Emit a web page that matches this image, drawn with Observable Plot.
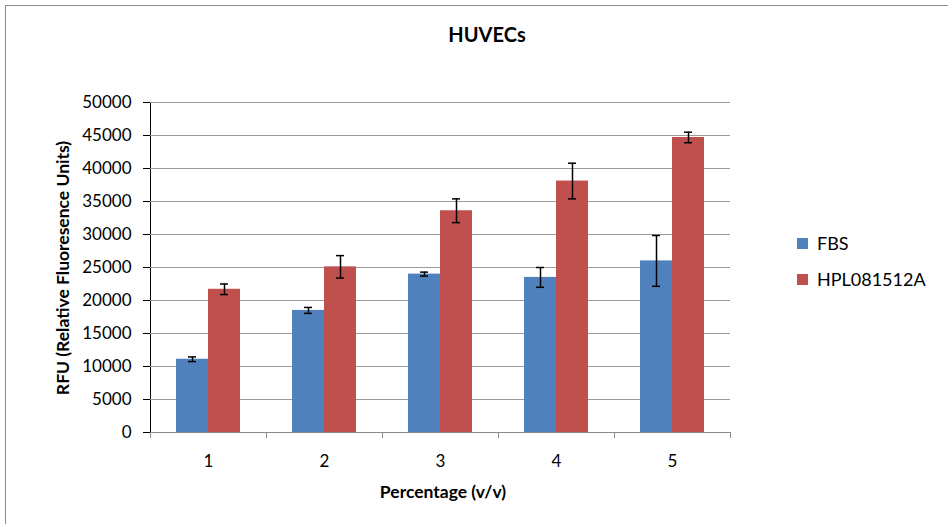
<!DOCTYPE html>
<html>
<head>
<meta charset="utf-8">
<script src="https://cdn.jsdelivr.net/npm/d3@7"></script>
<script src="https://cdn.jsdelivr.net/npm/@observablehq/plot@0.6"></script>
<style>
  body { margin: 0; background: #fff; }
  #wrap { position: relative; width: 948px; height: 524px; overflow: hidden; font-family: Lato, "Open Sans", sans-serif; color: #000; }
  #border { position: absolute; left: 5px; top: 5px; width: 960px; height: 540px; border-left: 1px solid #8c8c8c; border-top: 1px solid #8c8c8c; box-sizing: border-box; }
  #title { position: absolute; left: 0; width: 974px; top: 22px; text-align: center; font-weight: bold; font-size: 20px; line-height: 24px; }
  #xtitle { position: absolute; left: 0; width: 886px; top: 481px; text-align: center; font-weight: bold; font-size: 17.5px; line-height: 22px; }
  #ytitle { position: absolute; left: 63px; top: 268px; width: 400px; margin-left: -200px; margin-top: -11px; text-align: center; transform: rotate(-90deg); font-weight: bold; font-size: 17.5px; line-height: 22px; white-space: nowrap; }
  #legend { position: absolute; left: 797px; top: 231px; font-size: 18px; }
  .item { display: flex; align-items: center; height: 24px; margin-bottom: 12px; }
  .sw { width: 11px; height: 11px; margin-right: 9px; }
  #chart { position: absolute; left: 0; top: 0; }
</style>
</head>
<body>
<div id="wrap">
  <div id="border"></div>
  <div id="chart"></div>
  <div id="title">HUVECs</div>
  <div id="ytitle">RFU (Relative Fluoresence Units)</div>
  <div id="xtitle">Percentage (v/v)</div>
  <div id="legend"></div>
</div>
<script>
const categories = [1, 2, 3, 4, 5];
const series = ["FBS", "HPL081512A"];
const fbsMean = [11100, 18500, 24000, 23500, 26000];
const fbsErr = [350, 450, 300, 1500, 3850];
const hplMean = [21700, 25100, 33600, 38100, 44700];
const hplErr = [800, 1700, 1800, 2700, 800];
const yTicks = [0, 5000, 10000, 15000, 20000, 25000, 30000, 35000, 40000, 45000, 50000];
const colors = ["#4F81BD", "#C0504D"];

const data = categories.flatMap((c, i) => [
  {cat: c, series: series[0], value: fbsMean[i], err: fbsErr[i]},
  {cat: c, series: series[1], value: hplMean[i], err: hplErr[i]}
]);

const chart = Plot.plot({
  width: 948,
  height: 524,
  marginLeft: 150,
  marginRight: 218,
  marginTop: 102,
  marginBottom: 92,
  style: {fontFamily: "Lato, 'Open Sans', sans-serif", fontSize: "17px", color: "#000", background: "transparent"},
  fx: {domain: categories, padding: 0, label: null},
  x: {domain: series, paddingInner: 0, paddingOuter: 0.76, axis: null},
  y: {domain: [0, 50000], ticks: yTicks, label: null, tickFormat: d => String(d), tickSize: 7, tickPadding: 12, line: true, grid: false},
  color: {domain: series, range: colors},
  marks: [
    Plot.gridY(yTicks, {stroke: "#9a9a9a", strokeOpacity: 1}),
    Plot.barY(data, {fx: "cat", x: "series", y: "value", fill: "series"}),
    Plot.ruleX(data, {fx: "cat", x: "series", y1: d => d.value - d.err, y2: d => d.value + d.err, stroke: "#000", strokeWidth: 1.5}),
    Plot.tickY(data, {fx: "cat", x: "series", y: d => d.value - d.err, insetLeft: 12, insetRight: 12, stroke: "#000", strokeWidth: 1.5}),
    Plot.tickY(data, {fx: "cat", x: "series", y: d => d.value + d.err, insetLeft: 12, insetRight: 12, stroke: "#000", strokeWidth: 1.5}),
    Plot.ruleY([0], {stroke: "#8a8a8a"}),
    Plot.axisFx({anchor: "bottom", tickSize: 0, tickPadding: 22, label: null}),
    Plot.axisFx({anchor: "bottom", tickSize: 6, tickFormat: () => "", dx: -58, stroke: "#8a8a8a", label: null}),
    Plot.axisFx({anchor: "bottom", tickSize: 6, tickFormat: () => "", dx: 58, stroke: "#8a8a8a", label: null})
  ]
});
document.getElementById("chart").appendChild(chart);

const legend = document.getElementById("legend");
series.forEach((s, i) => {
  const item = document.createElement("div");
  item.className = "item";
  const sw = document.createElement("div");
  sw.className = "sw";
  sw.style.background = colors[i];
  const t = document.createElement("span");
  t.textContent = s;
  item.appendChild(sw);
  item.appendChild(t);
  legend.appendChild(item);
});
</script>
</body>
</html>
